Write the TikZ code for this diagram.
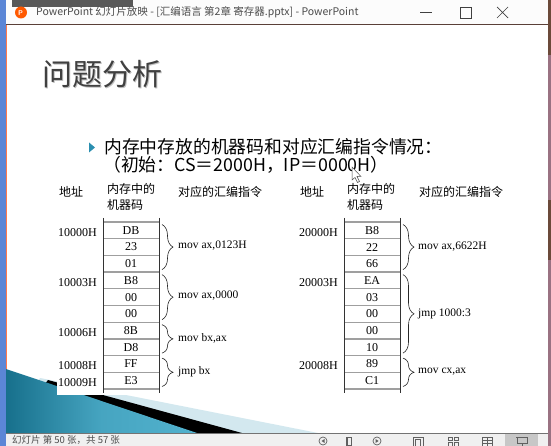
\documentclass[tikz,border=0pt]{standalone}
\usepackage{fontspec}
\setmainfont{Liberation Serif}
\newfontfamily\cjk{Noto Sans CJK SC}
\usetikzlibrary{decorations.pathreplacing}
\definecolor{winblue}{HTML}{5B86D6}
\definecolor{edgemauve}{HTML}{9A7282}
\definecolor{edgebrown}{HTML}{6B4A3A}
\definecolor{barline}{HTML}{5A4038}
\definecolor{tealdark}{HTML}{17708C}
\definecolor{teallight}{HTML}{52B2CE}
\definecolor{paleblue}{HTML}{D3E8EF}
\definecolor{bulletc}{HTML}{2B8FB0}
\definecolor{titlec}{HTML}{404040}
\definecolor{statusbg}{HTML}{F0F0F0}
\definecolor{iconc}{HTML}{606060}
\begin{document}
\begin{tikzpicture}[x=1pt,y=-1pt,
  cell/.style={font=\fontsize{12}{13}\selectfont, inner sep=0pt},
  addr/.style={font=\fontsize{12}{13}\selectfont, inner sep=0pt, anchor=west},
  instr/.style={font=\fontsize{11.5}{13}\selectfont, inner sep=0pt, anchor=west},
  head/.style={font=\cjk\fontsize{12}{13}\selectfont, inner sep=0pt, anchor=west},
  hline/.style={draw=gray!75, line width=1.3pt},
  vline/.style={draw=black!80, line width=0.8pt},
  bracec/.style={draw=black!85, line width=0.6pt, decorate, decoration={brace, amplitude=11pt, aspect=0.5}},
  icon/.style={draw=iconc, line width=0.7pt}]
\useasboundingbox (0,0) rectangle (551,446);
\clip (0,0) rectangle (551,446);
\fill[white] (0,0) rectangle (551,446);
% ---- title bar
\fill[white!98!gray] (0,0) rectangle (551,25);
\fill[black!65] (12,0) rectangle (133,7);
\draw[barline, line width=1pt] (6,25) -- (548,25);
\fill[orange!70!red] (21,12.5) circle (6);
\node[text=white, font=\sffamily\bfseries\fontsize{7}{7}\selectfont, inner sep=0] (picon) at (20.5,12.8) {P};
\node[anchor=west, inner sep=0, text=black!70, font=\cjk\fontsize{10.5}{12}\selectfont] (wtitle) at (36,12.5) {PowerPoint 幻灯片放映 - [汇编语言 第2章 寄存器.pptx] - PowerPoint};
\draw[black!75, line width=0.7pt] (420,12.5) -- (432,12.5);
\draw[black!75, line width=0.7pt] (460,7) rectangle (471,18);
\draw[black!75, line width=0.7pt] (497,7) -- (508,18) (497,18) -- (508,7);
% ---- window edges
\fill[winblue] (0,0) rectangle (5.5,446);
\draw[red!50!orange!70, line width=0.6pt] (6,25) -- (6,433);
\fill[edgemauve] (547.5,0) rectangle (551,446);
\fill[edgebrown] (547.5,0) rectangle (551,55);
\fill[edgebrown] (547.5,200) rectangle (551,260);
% ---- bottom decoration
\fill[paleblue] (40,378) -- (318,433) -- (6,433) -- cycle;
\fill[black] (48,380) -- (242,433) -- (6,433) -- cycle;
\shade[left color=tealdark, right color=teallight, middle color=teallight!80!tealdark] (6,369) -- (197,433) -- (6,433) -- cycle;
% ---- slide title
\node[text=black!25, font=\cjk\fontsize{30}{32}\selectfont, inner sep=0] at (103.2,75.2) {问题分析};
\node[text=titlec, font=\cjk\fontsize{30}{32}\selectfont, inner sep=0] (stitle) at (102,74) {问题分析};
% ---- bullet text
\fill[bulletc] (89,142.5) -- (95,147.5) -- (89,152.5) -- cycle;
\node[anchor=west, inner sep=0, font=\cjk\fontsize{17.8}{20}\selectfont] (line1) at (104,147) {内存中存放的机器码和对应汇编指令情况：};
\node[anchor=west, inner sep=0, font=\cjk\fontsize{17.8}{20}\selectfont] (line2) at (103,165) {（初始：CS＝2000H，IP＝0000H）};
% ---- left table
\fill[white] (57,214) rectangle (161,395);
\node[head] (lh1) at (59,192) {地址};
\node[head] (lh2) at (107,189) {内存中的};
\node[head] (lh3) at (107,205) {机器码};
\node[head] (lh4) at (178,192) {对应的汇编指令};
\foreach \k in {0,...,10} \draw[hline] (103,{222+16.7*\k}) -- (159,{222+16.7*\k});
\draw[vline] (103,218) -- (103,393);
\draw[vline] (159,218) -- (159,393);
\foreach \v [count=\i from 0] in {DB,23,01,B8,00,00,8B,D8,FF,E3}
  \node[cell] (L\i) at (131,{222+16.7*(\i+0.5)}) {\v};
\node[addr] (la0) at (58,232.4) {10000H};
\node[addr] (la3) at (58,282.5) {10003H};
\node[addr] (la6) at (58,332.6) {10006H};
\node[addr] (la8) at (58,365.9) {10008H};
\node[addr] (la9) at (58,382.6) {10009H};
\draw[bracec] (162,224.5) -- (162,269.6);
\draw[bracec] (162,274.6) -- (162,319.7);
\draw[bracec] (162,324.7) -- (162,353.1);
\draw[bracec] (162,358.1) -- (162,386.5);
\node[instr] (li1) at (178,246) {mov ax,0123H};
\node[instr] (li2) at (178,296) {mov ax,0000};
\node[instr] (li3) at (178,338) {mov bx,ax};
\node[instr] (li4) at (178,372) {jmp bx};
% ---- right table
\node[head] (rh1) at (300,192) {地址};
\node[head] (rh2) at (347,189) {内存中的};
\node[head] (rh3) at (347,205) {机器码};
\node[head] (rh4) at (419,192) {对应的汇编指令};
\foreach \k in {0,...,10} \draw[hline] (344,{222+16.7*\k}) -- (400,{222+16.7*\k});
\draw[vline] (344,218) -- (344,393);
\draw[vline] (400,218) -- (400,393);
\foreach \v [count=\i from 0] in {B8,22,66,EA,03,00,00,10,89,C1}
  \node[cell] (R\i) at (372,{222+16.7*(\i+0.5)}) {\v};
\node[addr] (ra0) at (299,232.4) {20000H};
\node[addr] (ra3) at (299,282.5) {20003H};
\node[addr] (ra8) at (299,365.9) {20008H};
\draw[bracec] (403,224.5) -- (403,269.6);
\draw[bracec] (403,274.6) -- (403,353.1);
\draw[bracec] (403,358.1) -- (403,386.5);
\node[instr] (ri1) at (418,247) {mov ax,6622H};
\node[instr] (ri2) at (418,314) {jmp 1000:3};
\node[instr] (ri3) at (418,372) {mov cx,ax};
% ---- mouse cursor
\filldraw[fill=white, draw=black!70, line width=0.5pt] (352,167) -- (352,180) -- (355,177.5) -- (357.5,182.5) -- (359.5,181.5) -- (357,176.5) -- (361,176.5) -- cycle;
% ---- status bar
\fill[statusbg] (0,433) rectangle (551,446);
\draw[black!55, line width=0.8pt] (0,433) -- (551,433);
\fill[winblue] (0,433) rectangle (5.5,446);
\fill[edgemauve] (547.5,433) rectangle (551,446);
\node[anchor=west, inner sep=0, text=black!70, font=\cjk\fontsize{9.5}{11}\selectfont] (status) at (12,439.8) {幻灯片 第 50 张，共 57 张};
\draw[icon] (323,441) circle (4);
\fill[iconc] (324.5,439) -- (321.5,441) -- (324.5,443) -- cycle;
\draw[icon] (346.5,437) rectangle (351.5,445);
\fill[iconc] (346.5,437) rectangle (348,445);
\draw[icon] (377,441) circle (4);
\fill[iconc] (375.5,439) -- (378.5,441) -- (375.5,443) -- cycle;
\draw[icon] (413,437) rectangle (423,446);
\draw[icon] (415.5,439.5) rectangle (420.5,446);
\draw[icon] (448,437) rectangle (452,440.5) (454,437) rectangle (458,440.5) (448,442.5) rectangle (452,446) (454,442.5) rectangle (458,446);
\draw[icon] (482,437) rectangle (492,446) (487,437) -- (487,446) (482,440) -- (492,440) (482,443) -- (492,443);
\fill[black!22] (505,434) rectangle (538,446);
\draw[icon] (516,437) -- (528,437) (517,437) rectangle (527,443) (522,443) -- (522,446);
\end{tikzpicture}
\end{document}
